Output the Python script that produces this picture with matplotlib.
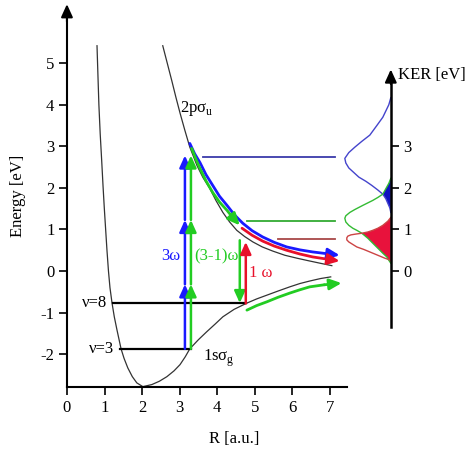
import matplotlib
matplotlib.use('Agg')
import matplotlib.pyplot as plt

plt.rcParams['font.family'] = ['Liberation Serif', 'DejaVu Serif']
plt.rcParams['mathtext.fontset'] = 'custom'
plt.rcParams['mathtext.rm'] = 'Liberation Serif'
plt.rcParams['axes.unicode_minus'] = False

# potential curves (R [a.u.], E [eV])
r_ground = [0.80, 0.825, 0.85, 0.885, 0.925, 0.96, 0.995, 1.03, 1.065, 1.105, 1.145, 1.20, 1.26, 1.33,
            1.44, 1.52, 1.62, 1.74, 1.86, 2.02, 2.26, 2.46, 2.66, 2.85, 3.01, 3.15, 3.27,
            3.50, 3.72, 3.95, 4.15, 4.45, 4.79, 5.05, 5.32, 5.62, 5.93, 6.20, 6.46, 6.75, 7.02]
e_ground = [5.42, 4.70, 4.00, 3.30, 2.65, 2.05, 1.50, 1.00, 0.50, 0.00, -0.40, -0.77, -1.10, -1.41,
            -1.87, -2.10, -2.33, -2.54, -2.69, -2.78, -2.73, -2.65, -2.54, -2.40, -2.25, -2.06, -1.87,
            -1.65, -1.46, -1.27, -1.10, -0.92, -0.77, -0.67, -0.58, -0.48, -0.38, -0.30, -0.24, -0.18, -0.14]
r_2pu = [2.55, 2.67, 2.79, 2.90, 3.01, 3.14, 3.27, 3.37, 3.46, 3.62, 3.80, 3.97, 4.15, 4.33,
         4.52, 4.73, 4.95, 5.20, 5.48, 5.80, 6.12, 6.42, 6.73, 7.05]
e_2pu = [5.42, 5.00, 4.58, 4.18, 3.80, 3.38, 2.98, 2.75, 2.54, 2.25, 1.99, 1.69, 1.41, 1.18,
         0.98, 0.83, 0.70, 0.58, 0.48, 0.38, 0.31, 0.25, 0.19, 0.13]

# dissociation paths
r_blue = [3.27, 3.40, 3.54, 3.70, 3.88, 4.06, 4.26, 4.46, 4.68, 4.93, 5.21, 5.52, 5.85,
          6.20, 6.54, 6.90, 7.26]
e_blue = [3.07, 2.82, 2.61, 2.32, 2.06, 1.80, 1.58, 1.35, 1.15, 0.97, 0.82, 0.69, 0.58,
          0.51, 0.46, 0.42, 0.38]
r_green = [3.32, 3.43, 3.54, 3.70, 3.88, 4.06, 4.26, 4.42, 4.60]
e_green = [2.95, 2.70, 2.47, 2.17, 1.89, 1.66, 1.46, 1.28, 1.10]
r_red = [4.66, 4.93, 5.21, 5.52, 5.85, 6.20, 6.54, 6.90, 7.26]
e_red = [1.03, 0.86, 0.72, 0.60, 0.50, 0.41, 0.34, 0.29, 0.24]
r_green_low = [4.79, 5.05, 5.32, 5.62, 5.93, 6.20, 6.46, 6.85, 7.31]
e_green_low = [-0.94, -0.83, -0.74, -0.63, -0.53, -0.45, -0.38, -0.33, -0.29]

# vibrational levels
lvl_names = ['ν=8', 'ν=3']
lvl_e = [-0.78, -1.87]
lvl_r0 = [1.22, 1.41]
lvl_r1 = [4.76, 3.30]

# photon steps
photon_steps = [-1.87, -0.32, 1.23, 2.78]
r_photon_blue = 3.14
r_photon_green = 3.30

# KER lines
ker_line_e = [2.74, 1.20, 0.77]
ker_line_r0 = [3.62, 4.79, 5.61]
ker_line_r1 = 7.13

# KER distributions (energy, width left of the KER axis in pixels)
ker_b_e = [4.17, 4.00, 3.85, 3.70, 3.50, 3.27, 3.12, 2.98, 2.85, 2.71, 2.60, 2.48, 2.37,
           2.26, 2.16, 2.06, 1.95, 1.85, 1.74, 1.63, 1.52, 1.41]
ker_b_px = [0, 2, 5, 8, 14, 21, 29, 36, 42, 46, 45, 42, 37, 32, 25, 19, 13, 8, 5, 3, 1, 0]
ker_g_e = [2.23, 2.11, 1.98, 1.85, 1.77, 1.70, 1.58, 1.48, 1.41, 1.33, 1.27, 1.18, 1.10,
           1.03, 0.98, 0.91, 0.79, 0.67, 0.55, 0.43, 0.34, 0.26, 0.19]
ker_g_px = [0, 2, 5, 8, 13, 18, 28, 36, 41, 45, 46, 45, 42, 38, 34, 29, 23, 18, 13, 8, 4, 2, 0]
ker_r_e = [1.29, 1.20, 1.10, 1.03, 0.98, 0.94, 0.91, 0.89, 0.87, 0.84, 0.80, 0.75, 0.70,
           0.64, 0.58, 0.52, 0.46, 0.38, 0.31, 0.26]
ker_r_px = [0, 3, 8, 13, 18, 23, 29, 35, 40, 43, 44, 44, 42, 38, 34, 27, 21, 13, 6, 0]

BLUE = '#1a1aff'
GREEN = '#22cc22'
RED = '#e8102a'
ker_x = 8.62
px_r = 37.57  # pixels per R unit

fig = plt.figure(figsize=(4.74, 4.49), dpi=100)
ax = fig.add_axes([0, 0, 1, 1])
ax.set_xlim(-1.782, 10.834)
ax.set_ylim(-4.28, 6.52)
ax.patch.set_visible(False)


def arrow(p0, p1, color, lw=1.8, ms=13):
    ax.annotate('', xy=p1, xytext=p0,
                arrowprops=dict(arrowstyle='-|>,head_length=0.55,head_width=0.25',
                                color=color, lw=lw, shrinkA=0, shrinkB=0,
                                mutation_scale=ms))


# main axes
for s in ['top', 'right']:
    ax.spines[s].set_visible(False)
ax.spines['left'].set_position(('data', 0))
ax.spines['left'].set_bounds(-2.8, 6.1)
ax.spines['bottom'].set_position(('data', -2.8))
ax.spines['bottom'].set_bounds(0, 7.45)
ax.spines['left'].set_linewidth(1.5)
ax.spines['bottom'].set_linewidth(1.5)
ax.set_xticks(range(0, 8))
ax.set_yticks(range(-2, 6))
ax.tick_params(direction='out', length=6, width=1.2, labelsize=12, pad=3)
arrow((0, 6.0), (0, 6.42), 'black', lw=1.5, ms=14)
ax.text(-1.30, 1.8, 'Energy [eV]', rotation=90, ha='center', va='center', fontsize=12)
ax.text(4.45, -4.05, 'R [a.u.]', ha='center', va='center', fontsize=12)

# potential curves
ax.plot(r_ground, e_ground, color='#333333', lw=0.9)
ax.plot(r_2pu, e_2pu, color='#333333', lw=0.9)
ax.text(3.01, 3.92, '2pσ$_\\mathrm{u}$', fontsize=12, va='center')
ax.text(3.62, -2.09, '1sσ$_\\mathrm{g}$', fontsize=12, va='center')

# vibrational levels
for name, e, r0, r1 in zip(lvl_names, lvl_e, lvl_r0, lvl_r1):
    ax.plot([r0, r1], [e, e], color='black', lw=1.6)
    ax.text(r0 - 0.15, e, name, fontsize=12, ha='right', va='center')

# photon arrows
for r, c in [(r_photon_blue, BLUE), (r_photon_green, GREEN)]:
    for a, b in zip(photon_steps[:-1], photon_steps[1:]):
        arrow((r, a), (r, b), c)
arrow((4.60, 0.74), (4.60, -0.77), GREEN)
arrow((4.76, -0.78), (4.76, 0.70), RED)
ax.text(3.03, 0.36, '3ω', color=BLUE, fontsize=12, ha='right', va='center')
ax.text(3.38, 0.36, '(3-1)ω', color=GREEN, fontsize=12, ha='left', va='center')
ax.text(4.84, -0.05, '1 ω', color=RED, fontsize=12, ha='left', va='center')

# dissociation paths
for rr, ee, c in [(r_blue, e_blue, BLUE), (r_green, e_green, GREEN),
                  (r_red, e_red, RED), (r_green_low, e_green_low, GREEN)]:
    ax.plot(rr[:-1], ee[:-1], color=c, lw=2, solid_capstyle='round')
    arrow((rr[-2], ee[-2]), (rr[-1], ee[-1]), c, lw=2)

# KER reference lines
for e, r0, c in zip(ker_line_e, ker_line_r0, ['#3a3aaa', '#33aa33', '#a84848']):
    ax.plot([r0, ker_line_r1], [e, e], color=c, lw=1.3)

# KER axis
ax2 = ax.twinx()
ax2.set_ylim(ax.get_ylim())
for s in ['top', 'left', 'bottom']:
    ax2.spines[s].set_visible(False)
ax2.spines['right'].set_position(('data', ker_x))
ax2.spines['right'].set_bounds(-1.35, 4.6)
ax2.spines['right'].set_linewidth(1.8)
ax2.set_yticks(range(0, 4))
ax2.tick_params(direction='out', length=6, width=1.2, labelsize=12, pad=3)
arrow((ker_x, 4.5), (ker_x, 4.85), 'black', lw=1.5, ms=14)
ax.text(8.82, 4.72, 'KER [eV]', fontsize=12, ha='left', va='center')

# KER distributions
kb_x = [ker_x - p / px_r for p in ker_b_px]
kg_x = [ker_x - p / px_r for p in ker_g_px]
kr_x = [ker_x - p / px_r for p in ker_r_px]
ax.plot(kb_x, ker_b_e, color='#4444cc', lw=1)
ax.plot(kg_x, ker_g_e, color='#33bb33', lw=1)
ax.plot(kr_x, ker_r_e, color='#cc4444', lw=1)

# overlaps
bf_x = [x for x, e in zip(kg_x, ker_g_e) if e >= 1.85] + [x for x, e in zip(kb_x, ker_b_e) if e < 1.85]
bf_e = [e for e in ker_g_e if e >= 1.85] + [e for e in ker_b_e if e < 1.85]
ax.fill(bf_x, bf_e, color='#1010c0', lw=0)
rf_x = [x for x, e in zip(kr_x, ker_r_e) if e >= 0.91] + [x for x, e in zip(kg_x, ker_g_e) if e < 0.91]
rf_e = [e for e in ker_r_e if e >= 0.91] + [e for e in ker_g_e if e < 0.91]
ax.fill(rf_x, rf_e, color='#e8123c', lw=0)

fig.savefig('out.png', dpi=100)
